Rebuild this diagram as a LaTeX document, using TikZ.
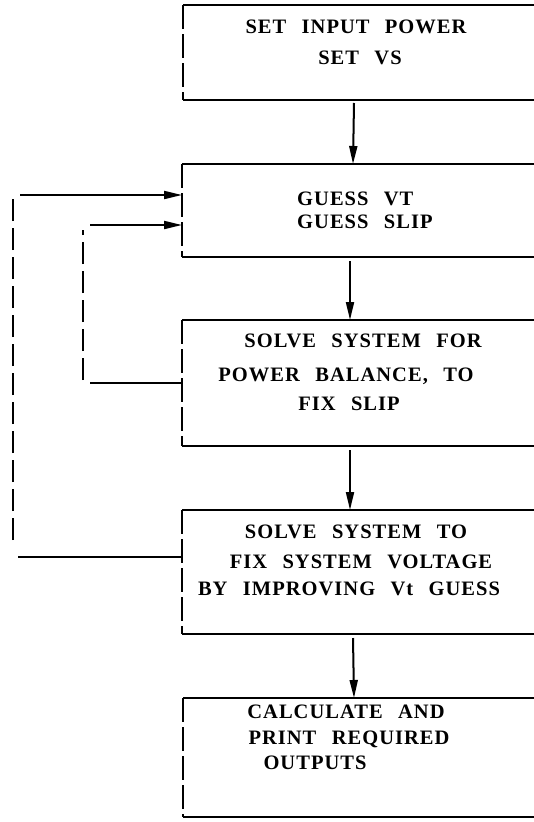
\documentclass[tikz,border=0pt]{standalone}
\usepackage{fontspec}
\newfontfamily\typw[LetterSpace=5,WordSpace=2.5]{Liberation Serif}
\usetikzlibrary{arrows.meta}
\begin{document}
\begin{tikzpicture}[x=1pt,y=-1pt,
  box/.style={draw=none, inner sep=0pt, outer sep=0pt, minimum width=352pt},
  edge/.style={line width=2pt},
  side/.style={line width=2pt, dash pattern=on 24pt off 5pt},
  loopv/.style={line width=2pt, dash pattern=on 22pt off 7pt},
  arr/.style={line width=2pt, -{Triangle[length=18pt,width=8pt]}},
  txt/.style={font=\typw\bfseries\fontsize{20.5}{20.5}\selectfont, inner sep=0pt, text height=13.5pt, text depth=0pt}]
\useasboundingbox (0,0) rectangle (533,822);

% boxes
\node[box, minimum height=95pt]  (b1) at (359,52.5) {};
\node[box, minimum height=93pt]  (b2) at (358,210.5) {};
\node[box, minimum height=126pt] (b3) at (358,383) {};
\node[box, minimum height=124pt] (b4) at (358,572) {};
\node[box, minimum height=119pt] (b5) at (359,757.5) {};

\foreach \b in {b1,b2,b3,b4,b5}{
  \draw[edge] (\b.north west) -- (\b.north east);
  \draw[edge] (\b.south west) -- (\b.south east);
  \draw[side] (\b.north west) -- (\b.south west);
}

% texts
\node[txt] (t11) at (356,27)  {SET INPUT POWER};
\node[txt] (t12) at (360,58)  {SET VS};
\node[txt, anchor=west] (t21) at (297,199) {GUESS VT};
\node[txt, anchor=west] (t22) at (297,222) {GUESS SLIP};
\node[txt] (t31) at (363,341) {SOLVE SYSTEM FOR};
\node[txt] (t32) at (346,375) {POWER BALANCE, TO};
\node[txt] (t33) at (349,404) {FIX SLIP};
\node[txt] (t41) at (356,532) {SOLVE SYSTEM TO};
\node[txt] (t42) at (361,562) {FIX SYSTEM VOLTAGE};
\node[txt] (t43) at (349,589) {BY IMPROVING Vt GUESS};
\node[txt] (t51) at (346,712) {CALCULATE AND};
\node[txt] (t52) at (349,738) {PRINT REQUIRED};
\node[txt] (t53) at (315,763) {OUTPUTS};

% main flow arrows
\draw[arr] ([xshift=-5pt,yshift=-3pt]b1.south) -- ([xshift=-5pt]b2.north);
\draw[arr] ([xshift=-8pt,yshift=-4pt]b2.south) -- ([xshift=-8pt]b3.north);
\draw[arr] ([xshift=-8pt,yshift=-4pt]b3.south) -- ([xshift=-8pt]b4.north);
\draw[arr] ([xshift=-5pt,yshift=-4pt]b4.south) -- ([xshift=-5pt]b5.north);

% outer loop: b4 -> b2
\coordinate (o1) at (18,557);
\coordinate (o2) at (13,540);
\coordinate (o3) at (13,199);
\coordinate (o4) at (20,195);
\draw[edge] ([yshift=15pt]b4.west) -- (o1);
\draw[loopv] (o2) -- (o3);
\draw[arr] (o4) -- ([yshift=15.5pt]b2.west);

% inner loop: b3 -> b2
\coordinate (i1) at (90,383);
\coordinate (i2) at (83,380);
\coordinate (i3) at (83,230);
\coordinate (i4) at (90,225);
\draw[edge] (b3.west) -- (i1);
\draw[loopv] (i2) -- (i3);
\draw[arr] (i4) -- ([yshift=-14.5pt]b2.west);
\end{tikzpicture}
\end{document}
